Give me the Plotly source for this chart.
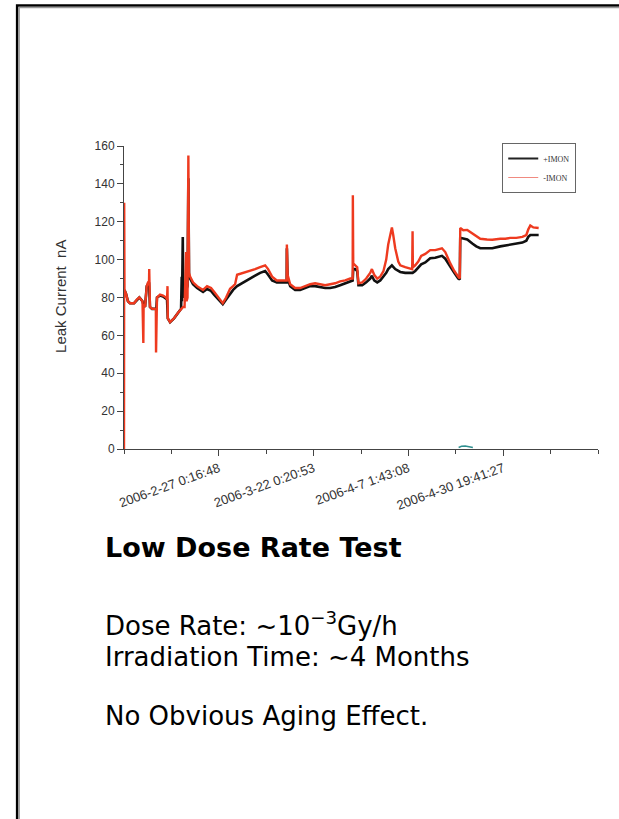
import plotly.graph_objects as go

# ---- data: leak current (nA) vs. sample number ----
tick_labels = ["2006-2-27 0:16:48", "2006-3-22 0:20:53", "2006-4-7 1:43:08", "2006-4-30 19:41:27"]
tick_samples = [1000, 2000, 3000, 4000]

imon_pos_x = [5, 21, 42, 63, 106, 137, 162, 179, 195, 207, 222, 240, 253, 264, 274, 296, 327, 341,
              348, 380, 412, 443, 454, 462, 486, 528, 570, 602, 609, 612, 620, 625, 644, 660, 670,
              679, 686, 697, 728, 771, 802, 834, 876, 918, 950, 992, 1042, 1077, 1119, 1151, 1193,
              1225, 1277, 1330, 1383, 1436, 1489, 1520, 1562, 1612, 1657, 1700, 1716, 1718, 1726,
              1753, 1805, 1858, 1911, 1964, 2016, 2069, 2122, 2175, 2227, 2280, 2333, 2386, 2412,
              2418, 2439, 2460, 2473, 2513, 2555, 2597, 2615, 2639, 2671, 2703, 2737, 2766, 2787,
              2826, 2861, 2893, 2914, 2966, 3019, 3044, 3072, 3104, 3135, 3178, 3230, 3283, 3354,
              3389, 3442, 3484, 3526, 3542, 3547, 3579, 3621, 3674, 3716, 3758, 3829, 3885, 3969,
              4022, 4075, 4138, 4202, 4244, 4265, 4286, 4318, 4349, 4374]
imon_pos_y = [84, 82, 78, 77, 77, 79, 80, 79, 78, 76, 75, 86, 87.5, 88, 75, 74, 74, 74,
              80, 81, 80.5, 79.5, 79, 69, 67, 69, 72, 74, 91, 78, 112, 80, 82, 85, 86,
              143, 92, 90, 87, 85, 84, 83, 84.5, 83.5, 81.5, 79, 76.5, 79, 82, 84, 86,
              87, 88.5, 90, 91.5, 93, 94, 92, 89, 88, 88, 88, 88, 106, 90,
              86, 84, 84, 85, 86, 86, 85.5, 85, 85, 85.5, 86.5, 87.5, 88.5, 89,
              95, 95, 94, 86.5, 86.5, 88, 90, 91.5, 89, 88, 89, 91, 93, 95,
              97, 95, 94, 93.5, 93, 93, 93, 94, 96, 97.5, 98.5, 100.7, 101, 102,
              100.5, 96, 93, 90, 89.5, 111.5, 111, 110.6, 108.5, 107, 106, 106, 106, 107,
              107.5, 108, 108.5, 109, 110, 112, 113, 113, 113, 113]

imon_neg_x = [0, 2, 5, 21, 42, 63, 106, 137, 162, 179, 195, 204, 207, 222, 240, 253, 264, 266,
              269, 274, 296, 327, 336, 338, 341, 348, 380, 412, 443, 454, 459, 462, 486, 528,
              570, 602, 623, 639, 655, 660, 670, 679, 686, 697, 728, 771, 802, 834, 876, 918,
              950, 992, 1042, 1077, 1119, 1151, 1172, 1193, 1225, 1277, 1330, 1383, 1436, 1489,
              1520, 1562, 1612, 1657, 1700, 1716, 1718, 1726, 1753, 1805, 1858, 1911, 1964,
              2016, 2069, 2122, 2175, 2227, 2280, 2333, 2386, 2412, 2414, 2418, 2439, 2460,
              2473, 2513, 2555, 2597, 2615, 2639, 2671, 2703, 2737, 2766, 2787, 2808, 2826,
              2840, 2861, 2893, 2914, 2966, 3019, 3040, 3044, 3047, 3072, 3104, 3135, 3178,
              3230, 3283, 3354, 3389, 3442, 3484, 3526, 3542, 3547, 3579, 3621, 3674, 3716,
              3758, 3829, 3885, 3969, 4022, 4075, 4138, 4202, 4244, 4265, 4286, 4318, 4349, 4374]
imon_neg_y = [0, 130, 84, 82, 78, 77, 77, 79, 80, 79, 78, 56, 76, 75, 86, 88, 88, 95,
              88, 75, 74, 74, 74, 51, 74, 80, 81.5, 81, 80, 79, 86, 69, 67, 69,
              72, 74, 75, 75, 104, 78, 80, 155, 93, 91, 88, 86, 85, 84, 86, 85,
              83, 80, 77, 80, 84.6, 86, 87, 92, 92.5, 93, 94, 95, 96, 97,
              95, 91, 89, 89, 89, 89, 108, 92, 87, 85, 85, 86, 87,
              87.5, 87, 86.5, 87, 87.5, 88.5, 89, 90, 90, 134, 98, 97, 96,
              87.5, 88, 90, 93, 95, 92, 90, 91, 94, 100, 108, 114, 117,
              113, 106, 99, 97, 96, 95, 95, 115, 96, 97, 99, 102, 103,
              105, 105, 106, 104, 98, 94, 91, 90, 116.7, 115.5, 115.7, 114, 112.5,
              111, 110.6, 110.5, 111, 111, 111.5, 111.5, 112, 113, 116, 118, 117, 117, 116.7]

# small offset channel near zero
offset_x = [3530, 3560, 3600, 3640, 3680]
offset_y = [0.8, 1.4, 1.6, 1.2, 0.8]

# ---- geometry helpers (pixel -> paper coordinates) ----
FIG_W, FIG_H = 619, 819
PLOT_L, PLOT_R, PLOT_T, PLOT_B = 124, 597.7, 146, 449


def px(x):
    return (x - PLOT_L) / (PLOT_R - PLOT_L)


def py(y):
    return (PLOT_B - y) / (PLOT_B - PLOT_T)


fig = go.Figure()

fig.add_trace(go.Scatter(x=offset_x, y=offset_y, mode="lines",
                         line=dict(color="#2f8f8f", width=1.5), showlegend=False,
                         hoverinfo="skip"))
fig.add_trace(go.Scatter(x=imon_pos_x, y=imon_pos_y, mode="lines", name="+IMON",
                         line=dict(color="#111111", width=2.6), showlegend=False))
fig.add_trace(go.Scatter(x=imon_neg_x, y=imon_neg_y, mode="lines", name="-IMON",
                         line=dict(color="#ee3a1f", width=2.4), showlegend=False))

# legend keys
fig.add_trace(go.Scatter(x=[None], y=[None], mode="lines", name="+IMON",
                         line=dict(color="#222222", width=2)))
fig.add_trace(go.Scatter(x=[None], y=[None], mode="lines", name="-IMON",
                         line=dict(color="#f08a80", width=1)))

axis_col = "#444444"
sans = "Liberation Sans, Arial, sans-serif"

fig.update_xaxes(
    range=[0, 5000],
    tickmode="array",
    tickvals=tick_samples,
    ticktext=tick_labels,
    tickangle=-20,
    ticks="outside", ticklen=6, tickcolor=axis_col, tickwidth=1,
    minor=dict(tickmode="linear", tick0=0, dtick=500, ticks="outside",
               ticklen=4, tickcolor=axis_col),
    showline=True, linecolor=axis_col, linewidth=1,
    showgrid=False, zeroline=False,
    tickfont=dict(family=sans, size=13, color="#333333"),
)
fig.update_yaxes(
    range=[0, 160],
    tickmode="linear", tick0=0, dtick=20,
    ticks="outside", ticklen=6, tickcolor=axis_col, tickwidth=1,
    minor=dict(tickmode="linear", tick0=0, dtick=10, ticks="outside",
               ticklen=3, tickcolor=axis_col),
    showline=True, linecolor=axis_col, linewidth=1,
    showgrid=False, zeroline=False,
    tickfont=dict(family=sans, size=12, color="#333333"),
)

body_font = dict(family="DejaVu Sans", size=26, color="#000000")
annotations = [
    dict(text="Leak Current  nA", x=px(60), y=py(296), xref="paper", yref="paper",
         textangle=-90, showarrow=False, xanchor="center", yanchor="middle",
         font=dict(family=sans, size=15, color="#333333")),
    dict(text="<b>Low Dose Rate Test</b>", x=px(103), y=py(547), xref="paper", yref="paper",
         showarrow=False, xanchor="left", yanchor="middle",
         font=dict(family="DejaVu Sans", size=27, color="#000000")),
    dict(text="Dose Rate: ~10<sup>−3</sup>Gy/h", x=px(103), y=py(624), xref="paper", yref="paper",
         showarrow=False, xanchor="left", yanchor="middle", font=body_font),
    dict(text="Irradiation Time: ~4 Months", x=px(103), y=py(657), xref="paper", yref="paper",
         showarrow=False, xanchor="left", yanchor="middle", font=body_font),
    dict(text="No Obvious Aging Effect.", x=px(103), y=py(716), xref="paper", yref="paper",
         showarrow=False, xanchor="left", yanchor="middle", font=body_font),
]

# slide frame: dark outer rule with a grey inner rule, open at right and bottom
shapes = [
    dict(type="path", xref="paper", yref="paper",
         path=f"M {px(17.2)} {py(830)} L {px(17.2)} {py(5.6)} L {px(630)} {py(5.6)}",
         line=dict(color="#000000", width=2.5)),
    dict(type="path", xref="paper", yref="paper",
         path=f"M {px(19.2)} {py(830)} L {px(19.2)} {py(7.5)} L {px(630)} {py(7.5)}",
         line=dict(color="#9a9a9a", width=1.5)),
]

fig.update_layout(
    width=FIG_W, height=FIG_H,
    margin=dict(l=PLOT_L, r=FIG_W - PLOT_R, t=PLOT_T, b=FIG_H - PLOT_B, pad=0),
    paper_bgcolor="white", plot_bgcolor="white",
    showlegend=True,
    legend=dict(x=px(502), y=py(143), xanchor="left", yanchor="top",
                bordercolor="#666666", borderwidth=1, bgcolor="white",
                font=dict(family="Liberation Serif, serif", size=8, color="#333333"),
                tracegroupgap=2),
    annotations=annotations,
    shapes=shapes,
)

fig.write_html("out.html")
